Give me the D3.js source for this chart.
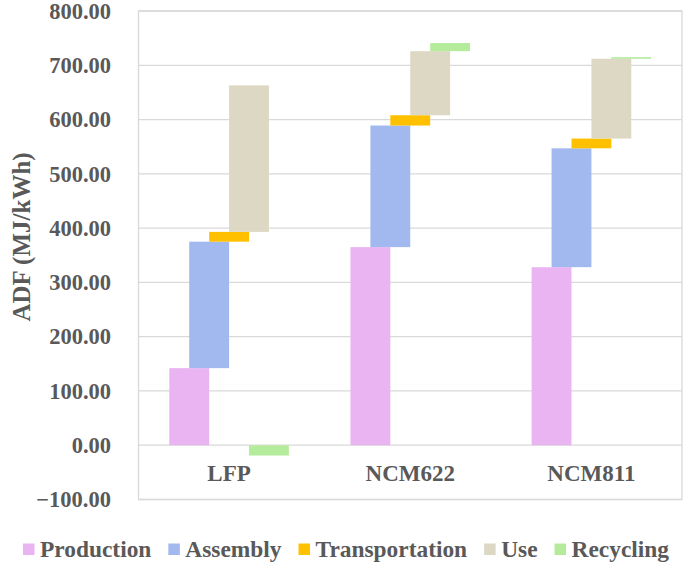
<!DOCTYPE html>
<html>
<head>
<meta charset="utf-8">
<script src="https://cdn.jsdelivr.net/npm/d3@7"></script>
<style>
  html, body { margin: 0; padding: 0; background: #ffffff; }
  svg { display: block; }
  text { font-family: "Liberation Serif", "Times New Roman", serif; font-weight: bold; fill: #595959; }
</style>
</head>
<body>
<svg id="chart" width="685" height="566"></svg>
<script>
// ---- Data ----
const categories = ["LFP", "NCM622", "NCM811"];
const stages = ["Production", "Assembly", "Transportation", "Use", "Recycling"];
const production = [142, 365, 328];
const assembly = [233, 224, 219];
const transportation = [18, 19, 18];
const use = [270, 118, 147];
const recycling = [-19, 15, 3];
const yTicks = [-100, 0, 100, 200, 300, 400, 500, 600, 700, 800];
const stageColors = ["#EAB4F3", "#A1B9EE", "#FFC000", "#DDD8C4", "#B5EC9C"];

const series = [production, assembly, transportation, use, recycling];

// ---- Layout ----
const W = 685, H = 566;
const plot = { left: 138.5, right: 682, top: 11, bottom: 499.5 };
const svg = d3.select("#chart");
svg.append("rect").attr("width", W).attr("height", H).attr("fill", "#fff");

const x = d3.scaleBand().domain(categories).range([plot.left, plot.right]).paddingInner(0).paddingOuter(0);
const y = d3.scaleLinear().domain([-100, 800]).range([plot.bottom, plot.top]);

// gridlines
svg.append("g").selectAll("line").data(yTicks).join("line")
  .attr("x1", plot.left).attr("x2", plot.right)
  .attr("y1", d => y(d)).attr("y2", d => y(d))
  .attr("stroke", "#d9d9d9").attr("stroke-width", 1.3);

// border
svg.append("rect")
  .attr("x", plot.left).attr("y", plot.top)
  .attr("width", plot.right - plot.left).attr("height", plot.bottom - plot.top)
  .attr("fill", "none").attr("stroke", "#d9d9d9").attr("stroke-width", 1.3);

// y axis tick labels
const yAxis = d3.axisLeft(y).tickValues(yTicks).tickFormat(d3.format(".2f")).tickSize(0).tickPadding(0);
const gy = svg.append("g").attr("transform", `translate(111,0)`).call(yAxis);
gy.select(".domain").remove();
gy.selectAll("text").attr("font-size", 22.5).attr("fill", "#595959")
  .style("font-family", '"Liberation Serif", "Times New Roman", serif').style("font-weight", "bold");

// y axis title
svg.append("text")
  .attr("transform", "translate(30,237) rotate(-90)")
  .attr("text-anchor", "middle")
  .attr("font-size", 25)
  .text("ADF (MJ/kWh)");

// ---- Waterfall segments ----
const barW = x.bandwidth() * 0.22;
const segments = [];
categories.forEach((c, ci) => {
  let cum = 0;
  series.forEach((s, si) => {
    const v = s[ci];
    let lo, hi;
    if (v >= 0) { lo = cum; hi = cum + v; cum += v; }
    else { lo = v; hi = 0; }
    segments.push({ cat: c, si, lo, hi });
  });
});

svg.append("g").selectAll("rect").data(segments).join("rect")
  .attr("x", d => x(d.cat) + x.bandwidth() / 2 + (d.si - 2) * barW / 2 - barW / 2)
  .attr("width", barW)
  .attr("y", d => y(d.hi))
  .attr("height", d => Math.max(0.8, y(d.lo) - y(d.hi)))
  .attr("fill", d => stageColors[d.si]);

// x category labels
const xAxis = d3.axisBottom(x).tickSize(0).tickPadding(0);
const gx = svg.append("g").attr("transform", `translate(0,${y(0)})`).call(xAxis);
gx.select(".domain").remove();
gx.selectAll("text").attr("font-size", 23).attr("dy", null).attr("y", 36).attr("fill", "#595959")
  .style("font-family", '"Liberation Serif", "Times New Roman", serif').style("font-weight", "bold");

// ---- Legend ----
const legend = svg.append("g");
let lx = 23;
stages.forEach((s, i) => {
  legend.append("rect").attr("x", lx).attr("y", 543.5).attr("width", 11.5).attr("height", 11.5)
    .attr("fill", stageColors[i]);
  const t = legend.append("text").attr("x", lx + 17).attr("y", 556.5).attr("font-size", 23.4).text(s);
  const tw = t.node().getComputedTextLength();
  lx = lx + 17 + tw + 17;
});
</script>
</body>
</html>
